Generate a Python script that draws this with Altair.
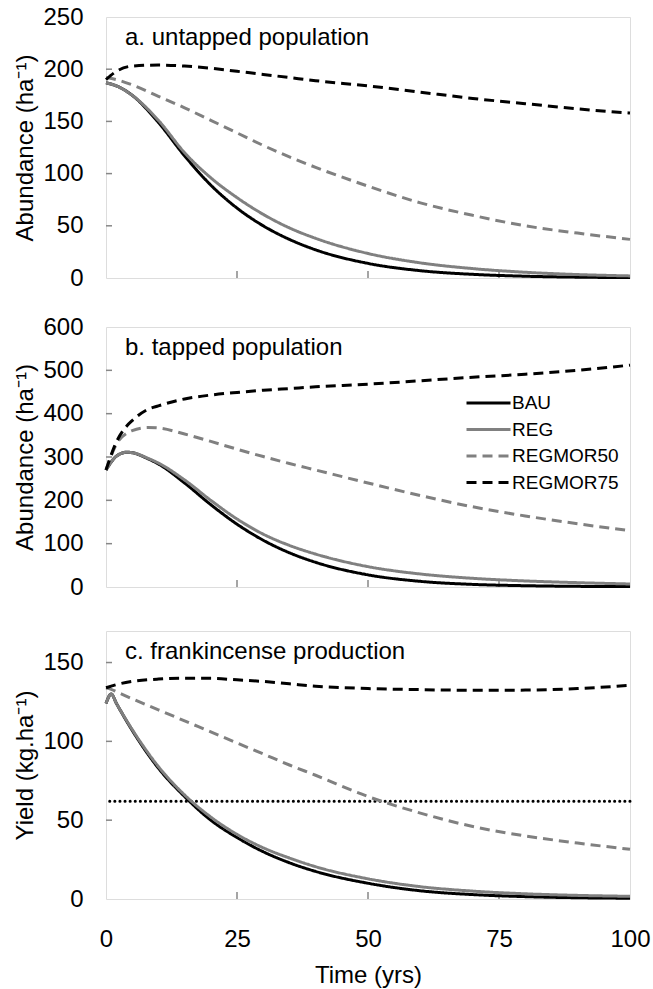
import altair as alt
import pandas as pd

series = ["BAU", "REG", "REGMOR50", "REGMOR75"]
line_colors = ["#000000", "#808080", "#808080", "#000000"]
line_dashes = [[1, 0], [1, 0], [10, 6], [10, 6]]

x_labels = [0, 25, 50, 75, 100]
x_inner_ticks = [25, 50, 75]

# Panel a: untapped population
years_a = [0, 2, 5, 10, 15, 20, 25, 30, 35, 40, 50, 60, 70, 80, 90, 100]
a_bau = [187, 184, 175, 149, 117, 89, 67, 50, 37, 27, 14, 7, 3.5, 1.7, 0.8, 0.4]
a_reg = [187, 184, 175, 151, 120, 96, 77, 61, 48, 38, 23.5, 14.5, 9, 5.5, 3.3, 2]
a_m50 = [192, 190, 185, 174, 163, 151, 139, 127, 116, 106, 88, 72, 60, 50, 43, 37]
a_m75 = [190, 198, 203, 204, 203, 201, 198, 195, 192, 189, 184, 178, 172, 167, 162, 158]
a_yticks = [0, 50, 100, 150, 200, 250]

# Panel b: tapped population
years_b = [0, 2, 4, 5, 8, 10, 15, 20, 25, 30, 35, 40, 50, 60, 70, 80, 90, 100]
b_bau = [270, 302, 311, 310, 296, 284, 240, 190, 145, 108, 79, 57, 28, 13, 6, 3, 1.5, 1]
b_reg = [270, 302, 311, 310, 297, 286, 247, 200, 157, 122, 96, 76, 47, 30, 20, 14, 10, 7]
b_m50 = [270, 330, 355, 361, 368, 367, 353, 336, 318, 301, 285, 270, 240, 211, 185, 164, 146, 130]
b_m75 = [270, 335, 372, 384, 410, 418, 434, 443, 449, 454, 458, 462, 468, 476, 484, 491, 500, 512]
b_yticks = [0, 100, 200, 300, 400, 500, 600]

# Panel c: frankincense production
years_c = [0, 1, 2, 5, 10, 15, 20, 25, 30, 35, 40, 50, 60, 70, 80, 90, 100]
c_bau = [124, 130, 124, 107, 83, 65, 50, 39, 30, 23, 17.5, 10, 5.2, 2.8, 1.5, 0.8, 0.5]
c_reg = [124, 130, 124, 107.5, 84, 66, 52, 41, 32.5, 26, 20.5, 12.8, 7.8, 5, 3.3, 2.3, 1.7]
c_m50 = [134, 133, 131.5, 127, 120, 113, 106, 99, 92, 85, 78.5, 65, 54.5, 46, 40, 35.5, 31.5]
c_m75 = [134, 135, 136, 138, 139.5, 140, 140, 139, 138, 136.5, 135, 133.5, 132.8, 132.4, 132.5, 133.5, 135.5]
c_yticks = [0, 50, 100, 150]
c_threshold = [62]

FRAME = "#878787"
FONT = "Liberation Sans"


def panel_df(years, values):
    rows = []
    for s, vals in zip(series, values):
        for t, v in zip(years, vals):
            rows.append({"t": t, "v": v, "series": s})
    return pd.DataFrame(rows)


def make_panel(df, ymax, yticks, ytitle, label, height, show_x=False, legend=None, threshold=None):
    xscale = alt.Scale(domain=[0, 100], nice=False, zero=False)
    yscale = alt.Scale(domain=[0, ymax], nice=False)
    if show_x:
        xaxis = alt.Axis(values=x_labels, title="Time (yrs)", labelFontSize=24, titleFontSize=24,
                         titleFontWeight="normal", ticks=False, domain=False, grid=False,
                         labelPadding=28, titlePadding=12, labelFlush=False,
                         labelColor="black", titleColor="black", format="d", labelFont=FONT, titleFont=FONT)
    else:
        xaxis = None
    yaxis = alt.Axis(values=yticks, title=ytitle, labelFontSize=24, titleFontSize=24,
                     titleFontWeight="normal", ticks=False, domain=False, grid=False,
                     labelPadding=23, titlePadding=5, labelColor="black", titleColor="black",
                     labelFlush=False, format="d", labelFont=FONT, titleFont=FONT)

    lines = alt.Chart(df).mark_line(strokeWidth=3, interpolate="monotone").encode(
        x=alt.X("t:Q", scale=xscale, axis=xaxis),
        y=alt.Y("v:Q", scale=yscale, axis=yaxis),
        color=alt.Color("series:N", scale=alt.Scale(domain=series, range=line_colors), legend=legend),
        strokeDash=alt.StrokeDash("series:N", scale=alt.Scale(domain=series, range=line_dashes), legend=legend),
    )
    xt = alt.Chart(pd.DataFrame({"t": x_inner_ticks})).mark_rule(color=FRAME, strokeWidth=1.5).encode(
        x=alt.X("t:Q", scale=xscale, axis=xaxis),
        y=alt.value(height),
        y2=alt.value(height - 7),
    )
    inner_y = [v for v in yticks if 0 < v < ymax]
    yt = alt.Chart(pd.DataFrame({"v": inner_y})).mark_rule(color=FRAME, strokeWidth=1.5).encode(
        y=alt.Y("v:Q", scale=yscale, axis=yaxis),
        x=alt.value(0),
        x2=alt.value(6),
    )
    txt = alt.Chart(pd.DataFrame({"label": [label]})).mark_text(
        align="left", baseline="middle", fontSize=24, color="black", font=FONT
    ).encode(text="label:N", x=alt.value(19), y=alt.value(21))
    layers = [yt, xt]
    if threshold is not None:
        thr = alt.Chart(pd.DataFrame({"v": threshold})).mark_rule(
            color="black", strokeWidth=3, strokeDash=[0.1, 5], strokeCap="round"
        ).encode(y=alt.Y("v:Q", scale=yscale, axis=yaxis))
        layers.append(thr)
    layers += [lines, txt]
    return alt.layer(*layers).properties(width=524, height=height)


legend_b = alt.Legend(orient="none", legendX=359, legendY=66, title=None, symbolType="stroke",
                      symbolSize=1936, symbolStrokeWidth=3, labelFontSize=19, labelOffset=0,
                      clipHeight=20, rowPadding=6.5, padding=0, labelColor="black", labelFont=FONT)

pa = make_panel(panel_df(years_a, [a_bau, a_reg, a_m50, a_m75]), 250, a_yticks,
                "Abundance (ha\u207b\u00b9)", "a. untapped population", 261)
pb = make_panel(panel_df(years_b, [b_bau, b_reg, b_m50, b_m75]), 600, b_yticks,
                "Abundance (ha\u207b\u00b9)", "b. tapped population", 260, legend=legend_b)
pc = make_panel(panel_df(years_c, [c_bau, c_reg, c_m50, c_m75]), 170, c_yticks,
                "Yield (kg.ha\u207b\u00b9)", "c. frankincense production", 268, show_x=True,
                threshold=c_threshold)

indep = dict(x="independent", y="independent", color="independent", strokeDash="independent")

top_two = alt.vconcat(pa, pb, spacing=23).resolve_scale(**indep).resolve_legend(
    color="independent", strokeDash="independent")

chart = alt.vconcat(top_two, pc, spacing=30).resolve_scale(**indep).resolve_legend(
    color="independent", strokeDash="independent"
).properties(
    padding={"left": 13, "top": 4, "right": 2, "bottom": 2}
).configure_view(stroke=FRAME, strokeWidth=2).configure(font=FONT, background="white")

chart.save("out.html", embed_options={"renderer": "svg", "actions": False})
